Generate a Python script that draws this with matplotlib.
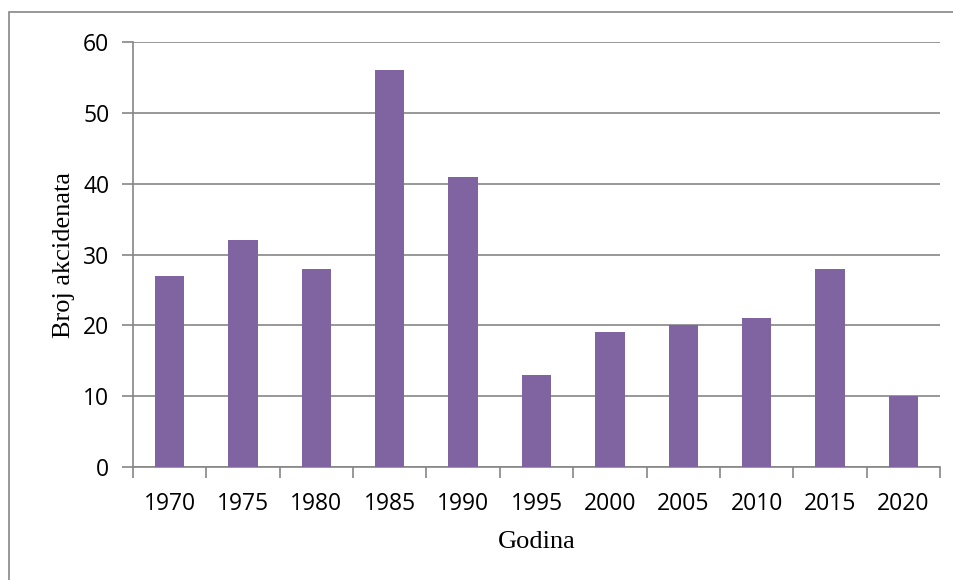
import matplotlib.pyplot as plt
from matplotlib.patches import Rectangle
import numpy as np

years = ["1970", "1975", "1980", "1985", "1990", "1995",
         "2000", "2005", "2010", "2015", "2020"]
accidents = [27, 32, 28, 56, 41, 13, 19, 20, 21, 28, 10]
y_ticks = [0, 10, 20, 30, 40, 50, 60]

bar_color = "#8064A2"
grid_color = "#868686"

fig = plt.figure(figsize=(9.54, 5.8), dpi=100)
# plot area in pixels: left 133, right 940, top 42, bottom 467
ax = fig.add_axes([133 / 954, 1 - 467 / 580, 807 / 954, 425 / 580])

# outer chart border (only top and left visible in the crop)
fig.patches.append(Rectangle((9 / 954, -0.1), 2, 1 - 12 / 580 + 0.1,
                             transform=fig.transFigure, fill=False,
                             edgecolor=grid_color, linewidth=1.2))

x = np.arange(len(years))
ax.bar(x, accidents, width=0.4, color=bar_color, zorder=3)

ax.set_xlim(-0.5, len(years) - 0.5)
ax.set_ylim(0, 60)
ax.set_yticks(y_ticks)
ax.set_xticks(x)
ax.set_xticklabels(years)
ax.set_xticks(np.arange(len(years) + 1) - 0.5, minor=True)
ax.tick_params(axis="x", which="major", length=0, pad=18)
ax.tick_params(axis="x", which="minor", length=8, color=grid_color, width=1.2)
ax.tick_params(axis="y", length=8, color=grid_color, width=1.2, pad=9)
for lab in ax.get_xticklabels() + ax.get_yticklabels():
    lab.set_fontfamily("Open Sans")
    lab.set_fontsize(16.5)

ax.grid(axis="y", color=grid_color, linewidth=1.2, zorder=0)
for side in ["top", "right"]:
    ax.spines[side].set_visible(False)
for side in ["left", "bottom"]:
    ax.spines[side].set_color(grid_color)
    ax.spines[side].set_linewidth(1.2)

ax.set_xlabel("Godina", fontfamily="Liberation Serif", fontsize=19, labelpad=11)
ax.set_ylabel("Broj akcidenata", fontfamily="Liberation Serif", fontsize=19, labelpad=6)

fig.savefig("out.png", dpi=100)
plt.close(fig)
